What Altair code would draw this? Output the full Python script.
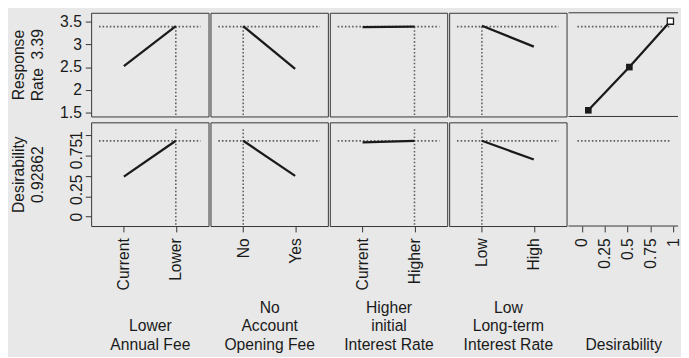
import altair as alt
import pandas as pd

# ---------------- data ----------------
factor_titles = [["Lower", "Annual Fee"],
                 ["No", "Account", "Opening Fee"],
                 ["Higher", "initial", "Interest Rate"],
                 ["Low", "Long-term", "Interest Rate"]]
factor_levels = [["Current", "Lower"], ["No", "Yes"], ["Current", "Higher"], ["Low", "High"]]
current_setting = ["Lower", "No", "Higher", "Low"]
response_rate = [[2.52, 3.40], [3.40, 2.46], [3.38, 3.39], [3.41, 2.95]]
desirability = [[0.49, 0.93], [0.93, 0.50], [0.91, 0.93], [0.93, 0.70]]
predicted_response = 3.39
predicted_desirability = 0.92862
desir_curve_x = [0.07, 0.52, 0.97]
desir_curve_y = [1.55, 2.50, 3.51]
desir_guide_x = [-0.05, 0.97]
resp_ticks = [1.5, 2, 2.5, 3, 3.5]
desir_ticks = [0, 0.25, 0.5, 0.75, 1]
row_titles = [["Response", "Rate\u00a0\u00a03.39"], ["Desirability", "0.92862"]]

# ---------------- styling ----------------
W, W_LAST, H = 120, 112, 106
FONT = "Liberation Sans"
INK = "#1a1a1a"
DOT = "#5e5e5e"
BG = "#e7e8e7"
LINE_H = 19
TITLE_BOTTOM = 129
dot_style = dict(color=DOT, strokeWidth=1.6, strokeDash=[1.6, 2.1])

resp_scale = alt.Scale(domain=[1.414, 3.694], nice=False, zero=False)
des_scale = alt.Scale(domain=[-0.116, 1.156], nice=False, zero=False)
dx_scale = alt.Scale(domain=[-0.147, 1.054], nice=False, zero=False)


def y_axis(row):
    common = dict(title=row_titles[row], titleAngle=270, titleAlign="center",
                  titleBaseline="bottom", titleX=-66, titleLineHeight=LINE_H,
                  labelFlush=False, labelOverlap=False, tickSize=6)
    if row == 0:
        return alt.Axis(values=resp_ticks, labelPadding=4,
                        labelExpr="'' + datum.value", **common)
    return alt.Axis(values=desir_ticks, labelAngle=270, labelAlign="center",
                    labelBaseline="bottom", labelPadding=1,
                    labelOffset={"condition": [{"test": "datum.value == 0.25", "value": -7},
                                               {"test": "datum.value == 0.75", "value": -2}],
                                 "value": 0},
                    labelExpr="datum.value == 0.5 ? '' : '' + datum.value", **common)


def x_axis(title, **kw):
    n = len(title) if isinstance(title, list) else 1
    return alt.Axis(title=title, labelAngle=270, labelAlign="right", labelBaseline="middle",
                    labelPadding=6, tickSize=6, titleY=TITLE_BOTTOM - (n - 1) * LINE_H,
                    titleBaseline="bottom", titleAlign="center", titleLineHeight=LINE_H,
                    labelFlush=False, labelOverlap=False, **kw)


def factor_panel(i, row):
    yvals = response_rate[i] if row == 0 else desirability[i]
    pred = predicted_response if row == 0 else predicted_desirability
    yscale = resp_scale if row == 0 else des_scale
    yax = y_axis(row) if i == 0 else None
    xax = x_axis(factor_titles[i]) if row == 1 else None
    xs = alt.Scale(type="point", domain=factor_levels[i], padding=0.63)
    xenc = alt.X("level:N", scale=xs, axis=xax, sort=None)
    yenc = alt.Y("value:Q", scale=yscale, axis=yax)

    df = pd.DataFrame({"level": factor_levels[i], "value": yvals})
    hline = alt.Chart(pd.DataFrame({"value": [pred]})).mark_rule(**dot_style).encode(
        y=yenc, x=alt.value(8), x2=alt.value(W - 8))
    vdf = pd.DataFrame({"level": [current_setting[i]], "value": [pred]})
    if row == 0:
        vline = alt.Chart(vdf).mark_rule(**dot_style).encode(x=xenc, y=yenc, y2=alt.value(H))
    else:
        vline = alt.Chart(vdf).mark_rule(**dot_style).encode(x=xenc, y=alt.value(7), y2=alt.value(H))
    line = alt.Chart(df).mark_line(color=INK, strokeWidth=2.3).encode(x=xenc, y=yenc)
    return alt.layer(hline, vline, line).properties(width=W, height=H)


def border(ypos):
    return alt.Chart(pd.DataFrame({"a": [0]})).mark_rule(color="#333", strokeWidth=1).encode(
        y=alt.value(ypos), x=alt.value(0), x2=alt.value(W_LAST))


def desir_panel(row):
    pred = predicted_response if row == 0 else predicted_desirability
    yscale = resp_scale if row == 0 else des_scale
    xax = (x_axis("Desirability", values=desir_ticks, labelExpr="'' + datum.value")
           if row == 1 else None)
    xenc = alt.X("d:Q", scale=dx_scale, axis=xax)
    gdf = pd.DataFrame({"d": [desir_guide_x[0]], "d2": [desir_guide_x[1]], "r": [pred]})
    guide = alt.Chart(gdf).mark_rule(**dot_style).encode(
        x=xenc, x2="d2", y=alt.Y("r:Q", scale=yscale, axis=None))
    layers = [guide]
    if row == 0:
        cdf = pd.DataFrame({"d": desir_curve_x, "r": desir_curve_y})
        yenc = alt.Y("r:Q", scale=yscale, axis=None)
        curve = alt.Chart(cdf).mark_line(color=INK, strokeWidth=2.3).encode(x=xenc, y=yenc)
        filled = alt.Chart(cdf.iloc[:2]).mark_square(size=46, color=INK, opacity=1).encode(x=xenc, y=yenc)
        hollow = alt.Chart(cdf.iloc[2:]).mark_square(size=40, fill="white", stroke=INK,
                                                     strokeWidth=1.3, opacity=1).encode(x=xenc, y=yenc)
        layers += [curve, filled, hollow, border(0), border(H)]
    else:
        layers += [border(H)]
    return alt.layer(*layers).properties(width=W_LAST, height=H,
                                         view=alt.ViewBackground(stroke=None))


rows = []
for row in range(2):
    panels = [factor_panel(i, row) for i in range(4)] + [desir_panel(row)]
    rows.append(alt.hconcat(*panels, spacing=0))

chart = alt.vconcat(*rows, spacing=0).properties(
    padding={"left": 2, "top": 0, "right": 0, "bottom": 0},
    background=BG,
).configure_view(
    stroke="#333", strokeWidth=1
).configure_axis(
    labelFont=FONT, titleFont=FONT, labelFontSize=16, titleFontSize=16,
    labelColor=INK, titleColor=INK, tickColor="#333", tickWidth=1,
    domain=False, grid=False, titleFontWeight="normal"
)

chart.save("out.html", embed_options={"renderer": "svg", "actions": False})
